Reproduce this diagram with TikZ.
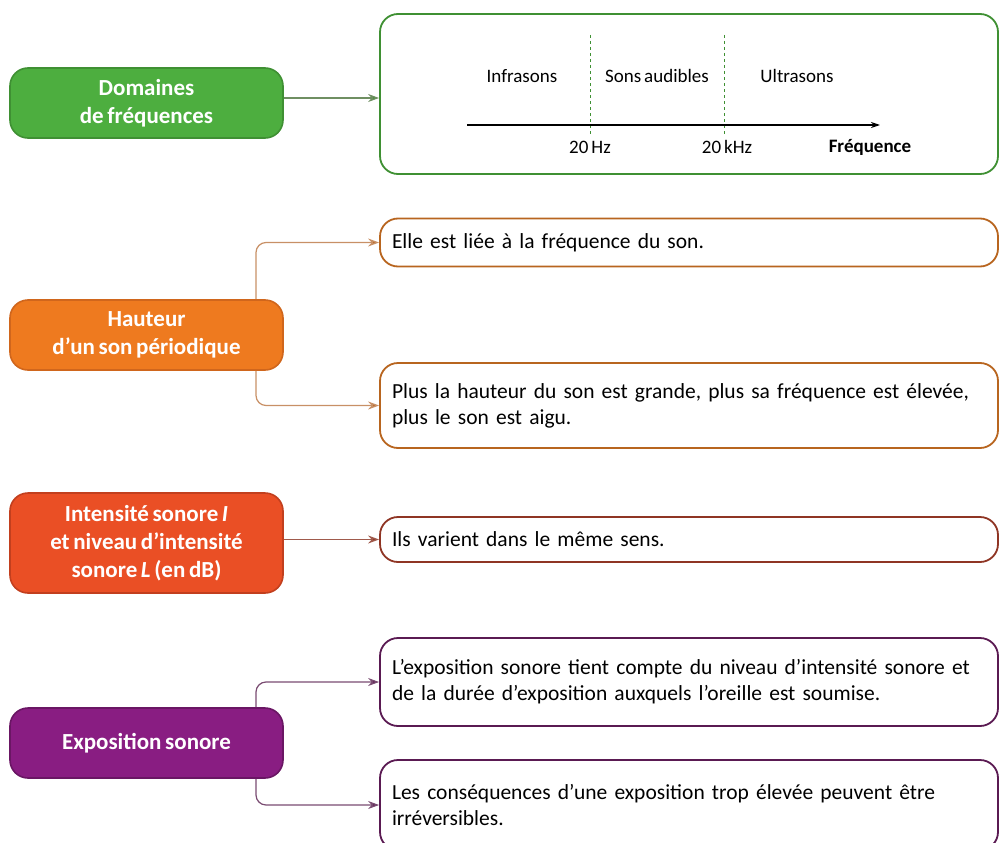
\documentclass[tikz,border=0pt]{standalone}
\usepackage{fontspec}
\setmainfont{Carlito}[WordSpace=0.7]
\usetikzlibrary{arrows.meta, positioning}

\definecolor{vertfond}{HTML}{4DAE3F}
\definecolor{vertbord}{HTML}{3F9033}
\definecolor{vertlien}{HTML}{6F8F62}
\definecolor{orangefond}{HTML}{EE7A1F}
\definecolor{orangebord}{HTML}{D0661C}
\definecolor{orangecadre}{HTML}{B8651F}
\definecolor{orangelien}{HTML}{C89066}
\definecolor{rougefond}{HTML}{EA4F25}
\definecolor{rougebord}{HTML}{C23F1E}
\definecolor{rougecadre}{HTML}{8F3524}
\definecolor{rougelien}{HTML}{A05A4C}
\definecolor{violetfond}{HTML}{891D82}
\definecolor{violetbord}{HTML}{6A1664}
\definecolor{violetcadre}{HTML}{5A1A52}
\definecolor{violetlien}{HTML}{7A4C72}

\tikzset{
  theme/.style={rounded corners=18pt, line width=1.6pt, minimum width=273pt,
    text=white, align=center, font=\bfseries\fontsize{23}{28}\selectfont},
  fact/.style={rounded corners=18pt, line width=1.8pt, fill=white,
    minimum width=618pt, text width=594pt, inner xsep=12pt, align=left,
    font=\fontsize{21.5}{26}\selectfont},
  axislabel/.style={font=\fontsize{19}{22}\selectfont},
  link/.style={line width=1.2pt, rounded corners=10pt}
}

\begin{document}
\begin{tikzpicture}[x=1pt, y=-1pt]
\useasboundingbox (0,0) rectangle (1001,843);

\node [theme, fill=vertfond, draw=vertbord, minimum height=70pt] (domaines) at (146.5,103) {Domaines\\de fréquences};
\node [fact, draw=vertbord, minimum height=160pt] (frequences) at (689,94) {};

\node [theme, fill=orangefond, draw=orangebord, minimum height=70pt] (hauteur) at (146.5,335) {Hauteur\\d’un son périodique};
\node [fact, draw=orangecadre, minimum height=48pt] (hautA) at (689,242.5) {Elle est liée à la fréquence du son.};
\node [fact, draw=orangecadre, minimum height=85pt] (hautB) at (689,405.5) {Plus la hauteur du son est grande, plus sa fréquence est élevée,\\plus le son est aigu.};

\node [theme, fill=rougefond, draw=rougebord, minimum height=100pt] (intensite) at (146.5,543) {Intensité sonore \textit{I}\\et niveau d’intensité\\sonore \textit{L} (en dB)};
\node [fact, draw=rougecadre, minimum height=45pt] (sens) at (689,539.5) {Ils varient dans le même sens.};

\node [theme, fill=violetfond, draw=violetbord, minimum height=70pt] (exposition) at (146.5,743) {Exposition sonore};
\node [fact, draw=violetcadre, minimum height=88pt] (expoA) at (689,682) {L’exposition sonore tient compte du niveau d’intensité sonore et\\de la durée d’exposition auxquels l’oreille est soumise.};
\node [fact, draw=violetcadre, minimum height=90pt] (expoB) at (689,805) {Les conséquences d’une exposition trop élevée peuvent être\\irréversibles.};

\draw [link, vertlien, -{Stealth[length=11pt,width=8pt,fill=vertbord]}] (domaines.east |- 0,98) -- (frequences.west |- 0,98);
\draw [link, orangelien, -{Stealth[length=11pt,width=8pt,fill=orangecadre]}] ([xshift=109.5pt]hauteur.north) |- (hautA.west);
\draw [link, orangelien, -{Stealth[length=11pt,width=8pt,fill=orangecadre]}] ([xshift=109.5pt]hauteur.south) |- (hautB.west);
\draw [link, rougelien, -{Stealth[length=11pt,width=8pt,fill=rougecadre]}] (intensite.east |- sens.west) -- (sens.west);
\draw [link, violetlien, -{Stealth[length=11pt,width=8pt,fill=violetcadre]}] ([xshift=109.5pt]exposition.north) |- (expoA.west);
\draw [link, violetlien, -{Stealth[length=11pt,width=8pt,fill=violetcadre]}] ([xshift=109.5pt]exposition.south) |- (expoB.west);

\draw [dashed, vertbord, line width=1pt] (590,35) -- (590,135);
\draw [dashed, vertbord, line width=1pt] (724,35) -- (724,135);
\draw [line width=1.4pt, -{Stealth[length=9pt,width=6pt]}] (467,125) -- (880,125);

\node [axislabel] (infra) at (522,76) {Infrasons};
\node [axislabel] (audibles) at (657,76) {Sons audibles};
\node [axislabel] (ultra) at (797,76) {Ultrasons};
\node [axislabel] (hz) at (590,147) {20 Hz};
\node [axislabel] (khz) at (727,147) {20 kHz};
\node [axislabel, font=\bfseries\fontsize{19}{22}\selectfont] (freq) at (870,147) {Fréquence};
\end{tikzpicture}
\end{document}
